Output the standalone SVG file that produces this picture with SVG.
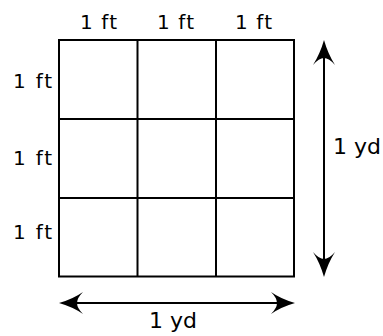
<svg xmlns="http://www.w3.org/2000/svg" width="383" height="336" viewBox="0 0 383 336">
<style>
.grid{fill:none;stroke:#000;stroke-width:2}
.shaft{stroke:#000;stroke-width:2;fill:none}
.head{fill:#000;stroke:none}
.ft{font-family:"DejaVu Sans",sans-serif;font-size:20px;fill:#000}
.yd{font-family:"DejaVu Sans",sans-serif;font-size:22px;fill:#000}
</style>
<rect width="383" height="336" fill="#fff"/>
<g id="grid">
<rect class="grid" x="59" y="40" width="235" height="236.5"/>
<line class="grid" x1="137.5" y1="40" x2="137.5" y2="276.5"/>
<line class="grid" x1="216" y1="40" x2="216" y2="276.5"/>
<line class="grid" x1="59" y1="119" x2="294" y2="119"/>
<line class="grid" x1="59" y1="198" x2="294" y2="198"/>
</g>
<g id="connectors">
<line class="shaft" x1="324" y1="52" x2="324" y2="265"/>
<path class="head" d="M324,40 Q328,54 335,65 Q329,58 324,58 Q319,58 313,65 Q320,54 324,40 Z"/>
<path class="head" d="M324,277 Q328,263 335,252 Q329,259 324,259 Q319,259 313,252 Q320,263 324,277 Z"/>
<line class="shaft" x1="70" y1="303" x2="284" y2="303"/>
<path class="head" d="M59,303 Q73,299 83,292 Q77,298 77,303 Q77,308 83,314 Q73,307 59,303 Z"/>
<path class="head" d="M295,303 Q281,299 271,292 Q277,298 277,303 Q277,308 271,314 Q281,307 295,303 Z"/>
</g>
<g id="labels">
<text class="ft" x="80" y="29" textLength="37" lengthAdjust="spacing">1 ft</text>
<text class="ft" x="157" y="29" textLength="37" lengthAdjust="spacing">1 ft</text>
<text class="ft" x="235" y="29" textLength="37" lengthAdjust="spacing">1 ft</text>
<text class="ft" x="13" y="88" textLength="39" lengthAdjust="spacing">1 ft</text>
<text class="ft" x="13" y="165" textLength="39" lengthAdjust="spacing">1 ft</text>
<text class="ft" x="13" y="239" textLength="39" lengthAdjust="spacing">1 ft</text>
<text class="yd" x="333" y="154">1 yd</text>
<text class="yd" x="173" y="328" text-anchor="middle">1 yd</text>
</g>
</svg>
